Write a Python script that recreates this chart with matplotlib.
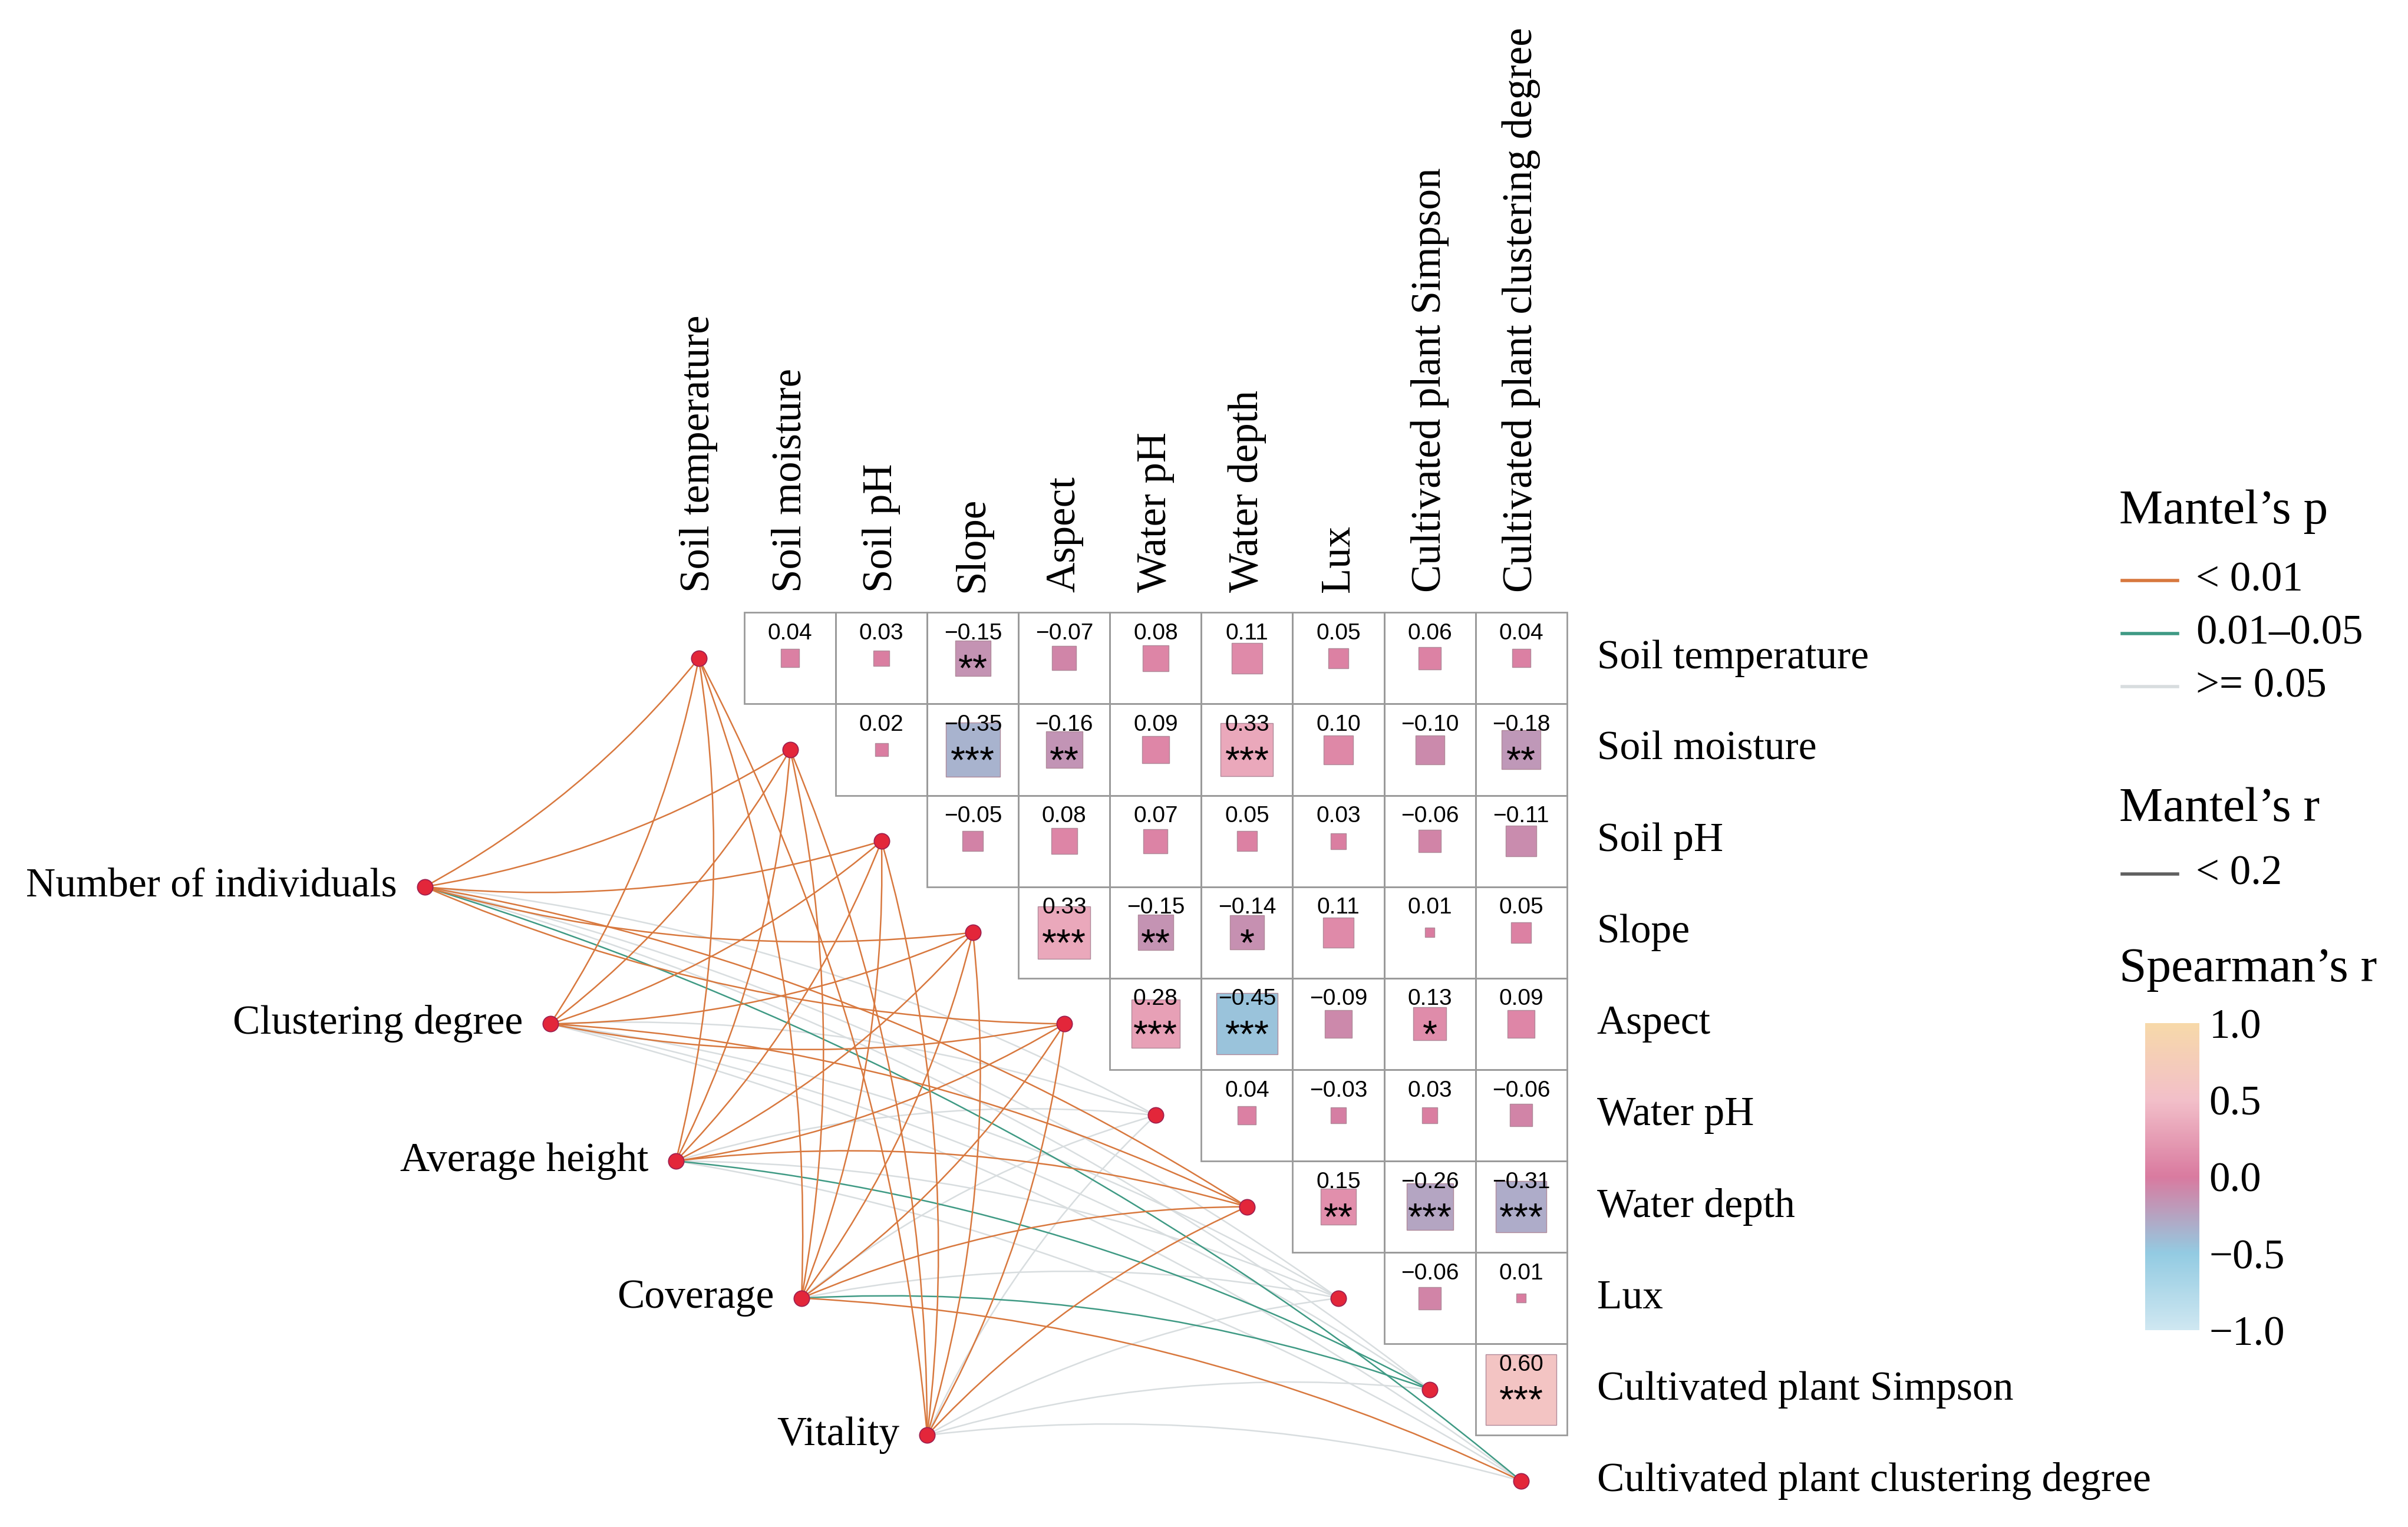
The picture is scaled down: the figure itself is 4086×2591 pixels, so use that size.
import numpy as np
import matplotlib.pyplot as plt
from matplotlib.colors import LinearSegmentedColormap, Normalize
from matplotlib.patches import Rectangle, PathPatch
from matplotlib.path import Path
from matplotlib.lines import Line2D
import matplotlib.cm as cm

# ---- data ----
env = ["Soil temperature", "Soil moisture", "Soil pH", "Slope", "Aspect",
       "Water pH", "Water depth", "Lux", "Cultivated plant Simpson",
       "Cultivated plant clustering degree"]
spec = ["Number of individuals", "Clustering degree", "Average height",
        "Coverage", "Vitality"]

# Spearman's r, upper triangle (row i, columns i+1..9)
r_rows = [
    [0.04, 0.03, -0.15, -0.07, 0.08, 0.11, 0.05, 0.06, 0.04],
    [0.02, -0.35, -0.16, 0.09, 0.33, 0.10, -0.10, -0.18],
    [-0.05, 0.08, 0.07, 0.05, 0.03, -0.06, -0.11],
    [0.33, -0.15, -0.14, 0.11, 0.01, 0.05],
    [0.28, -0.45, -0.09, 0.13, 0.09],
    [0.04, -0.03, 0.03, -0.06],
    [0.15, -0.26, -0.31],
    [-0.06, 0.01],
    [0.60],
]
star_rows = [
    ["", "", "**", "", "", "", "", "", ""],
    ["", "***", "**", "", "***", "", "", "**"],
    ["", "", "", "", "", "", ""],
    ["***", "**", "*", "", "", ""],
    ["***", "***", "", "*", ""],
    ["", "", "", ""],
    ["**", "***", "***"],
    ["", ""],
    ["***"],
]
# Mantel's p class per spec x env: 0 = <0.01, 1 = 0.01-0.05, 2 = >=0.05
mantel_p = [
    [0, 0, 0, 0, 0, 2, 0, 2, 2, 1],
    [0, 0, 0, 0, 0, 2, 0, 2, 2, 2],
    [0, 0, 0, 0, 0, 2, 0, 2, 1, 2],
    [0, 0, 0, 0, 0, 2, 0, 2, 1, 0],
    [0, 0, 0, 0, 0, 2, 0, 2, 2, 2],
]
p_labels = ["< 0.01", "0.01\u20130.05", ">= 0.05"]
p_colors = ["#D8783E", "#3F9A84", "#D8DDDF"]
cb_ticks = [-1.0, -0.5, 0.0, 0.5, 1.0]

serif = "Liberation Serif"
sans = ["Liberation Sans Narrow", "Liberation Sans", "DejaVu Sans"]

cmap = LinearSegmentedColormap.from_list(
    "spear", [(0.0, "#CFE7F1"), (0.25, "#93CBE2"), (0.5, "#D97A9F"),
              (0.75, "#F2BFC9"), (1.0, "#F7D9A9")])
norm = Normalize(-1, 1)

fig = plt.figure(figsize=(40.86, 25.91), dpi=100)
ax = fig.add_axes([0, 0, 1, 1])
# axes in cell units; column j center at x=j, row i center at y=i (downwards)
cell_px = 59.5
x0_px, y0_px = 455, 428.5
ax.set_xlim((0 - x0_px) / cell_px, (1568 - x0_px) / cell_px)
ax.set_ylim((994 - y0_px) / cell_px, (0 - y0_px) / cell_px)
ax.axis("off")

n = len(env)

# ---- correlation cells ----
for i, (rr, ss) in enumerate(zip(r_rows, star_rows)):
    for k, (r, st) in enumerate(zip(rr, ss)):
        j = i + 1 + k
        ax.add_patch(Rectangle((j - 0.5, i - 0.5), 1, 1, fill=False,
                               edgecolor="#9A9A9A", lw=2.0, zorder=1))
        side = np.sqrt(abs(r))
        ax.add_patch(Rectangle((j - side / 2, i - side / 2), side, side,
                               facecolor=cmap(norm(r)), edgecolor="#B08A9A",
                               lw=1.0, zorder=2))
        ax.text(j, i - 0.27, f"{r:.2f}".replace("-", "\u2212"), ha="center",
                va="center", fontsize=28, family=sans, zorder=4)
        if st:
            ax.text(j, i + 0.14, st, ha="center", va="center", fontsize=46,
                    family=sans, zorder=4)

# ---- labels ----
for j, name in enumerate(env):
    ax.text(j, -0.72, name, rotation=90, ha="center", va="bottom",
            fontsize=51, family=serif)
    ax.text(n - 0.5 + 0.33, j, name, ha="left", va="center",
            fontsize=50, family=serif)

# ---- spec nodes and links ----
sx = np.linspace(-3.0, 2.5, len(spec))
sy = np.linspace(2.5, 8.5, len(spec))


def curve(p0, p1, c):
    d = p1 - p0
    perp = np.array([-d[1], d[0]])
    ctrl = (p0 + p1) / 2 + c * perp
    return Path([p0, ctrl, p1], [Path.MOVETO, Path.CURVE3, Path.CURVE3])


for cls in (2, 1, 0):
    for s in range(len(spec)):
        for e in range(n):
            if mantel_p[s][e] != cls:
                continue
            p0 = np.array([sx[s], sy[s]])
            p1 = np.array([e, e], dtype=float)
            c = 0.1 if e < n / 2 else -0.1
            ax.add_patch(PathPatch(curve(p0, p1, c), fill=False,
                                   edgecolor=p_colors[cls], lw=1.8,
                                   zorder=5 + (2 - cls)))

ax.plot(sx, sy, "o", ms=19, mfc="#E3263A", mec="#9B2050", mew=1.2, zorder=10)
ax.plot(np.arange(n), np.arange(n), "o", ms=19, mfc="#E3263A",
        mec="#9B2050", mew=1.2, zorder=10)
for s, name in enumerate(spec):
    ax.text(sx[s] - 0.3, sy[s], name, ha="right", va="center",
            fontsize=50, family=serif)

# ---- legends ----
def fx(px):
    return px / 1568


def fy(py):
    return 1 - py / 994


fig.text(fx(1380), fy(333), "Mantel\u2019s p", fontsize=60, family=serif,
         va="center", ha="left")
for k, (lab, col) in enumerate(zip(p_labels, p_colors)):
    yy = fy(378 + 34.5 * k)
    fig.add_artist(Line2D([fx(1382), fx(1418)], [yy, yy], color=col, lw=4))
    fig.text(fx(1430), yy, lab, fontsize=51, family=serif, va="center")

fig.text(fx(1380), fy(527), "Mantel\u2019s r", fontsize=60, family=serif,
         va="center", ha="left")
yy = fy(569)
fig.add_artist(Line2D([fx(1382), fx(1418)], [yy, yy], color="#606060", lw=4))
fig.text(fx(1430), yy, "< 0.2", fontsize=51, family=serif, va="center")

fig.text(fx(1380), fy(631), "Spearman\u2019s r", fontsize=60, family=serif,
         va="center", ha="left")

cax = fig.add_axes([fx(1397), fy(866), fx(1432) - fx(1397), fy(666) - fy(866)])
cb = fig.colorbar(cm.ScalarMappable(norm=norm, cmap=cmap), cax=cax,
                  ticks=cb_ticks)
cb.outline.set_visible(False)
cb.ax.tick_params(length=0, pad=12)
cb.ax.set_yticklabels([f"{t:.1f}".replace("-", "\u2212") for t in cb_ticks],
                      fontsize=51, family=serif)

fig.savefig("out.png", dpi=100)
